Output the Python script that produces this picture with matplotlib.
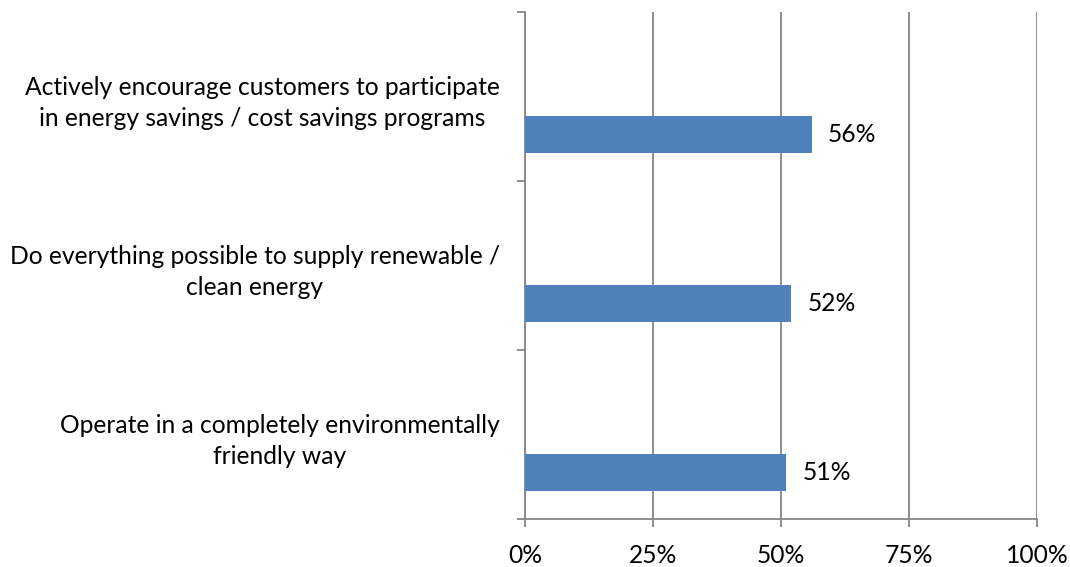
import matplotlib.pyplot as plt
from matplotlib.ticker import FixedLocator, PercentFormatter

# Datos
categorias = ['Actively encourage customers to participate\nin energy savings / cost savings programs',
              'Do everything possible to supply renewable /\nclean energy',
              'Operate in a completely environmentally\nfriendly way']
valores = [56, 52, 51]
ticks_x = [0, 25, 50, 75, 100]

plt.rcParams['font.family'] = ['Lato', 'DejaVu Sans']
gris = '#868686'
tam = 17.7

fig = plt.figure(figsize=(10.7, 5.67), dpi=100)
ax = fig.add_axes([525 / 1070, 1 - 519 / 567, 512 / 1070, 507 / 567])

pos = list(range(len(categorias)))
# las barras quedan en la parte baja de cada banda (como en Excel)
ax.barh([p + 0.222 for p in pos], valores, height=0.219, color='#4F81BD', zorder=3)

for p, v in zip(pos, valores):
    ax.text(v + 3.2, p + 0.222, f'{v}%', va='center', ha='left', fontsize=tam, color='black')

ax.set_xlim(0, 100)
ax.set_ylim(len(categorias) - 0.5, -0.5)
ax.set_xticks(ticks_x)
ax.xaxis.set_major_formatter(PercentFormatter(decimals=0))
ax.set_yticks(pos)
ax.set_yticklabels(categorias, multialignment='center', linespacing=1.45)
ax.yaxis.set_minor_locator(FixedLocator([p - 0.5 for p in pos] + [pos[-1] + 0.5]))

ax.grid(axis='x', color=gris, linewidth=1.3, zorder=0)
ax.tick_params(axis='y', which='major', length=0, pad=18, labelsize=tam)
ax.tick_params(axis='y', which='minor', length=6, color=gris, width=1.3)
ax.tick_params(axis='x', length=6, color=gris, width=1.3, labelsize=tam, pad=12)

for lado in ['top', 'right']:
    ax.spines[lado].set_visible(False)
for lado in ['left', 'bottom']:
    ax.spines[lado].set_color(gris)
    ax.spines[lado].set_linewidth(1.3)

fig.savefig('out.png', dpi=100)
